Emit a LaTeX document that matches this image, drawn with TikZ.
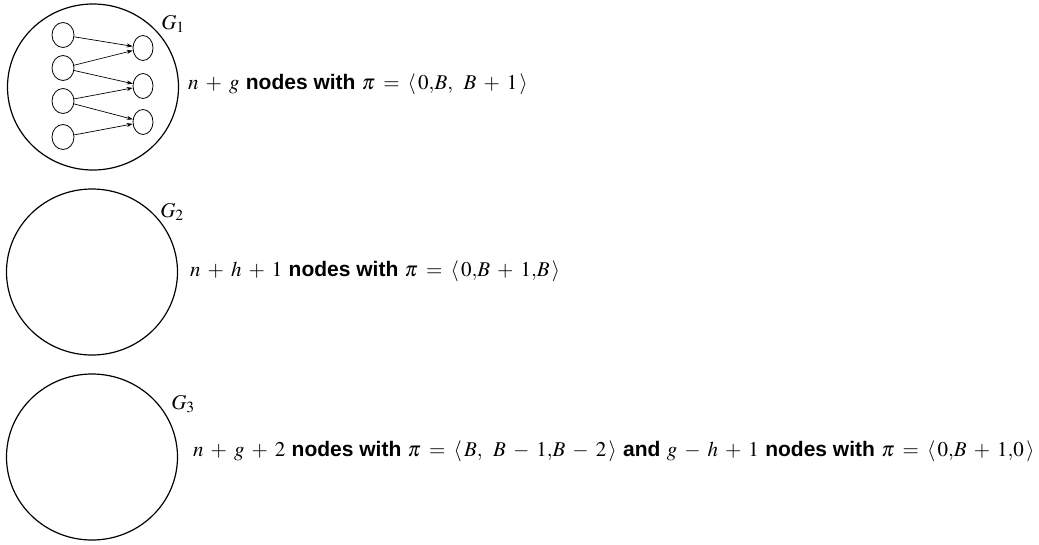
\documentclass[tikz,border=0pt]{standalone}
\usepackage{mathptmx}
\usepackage{fontspec}
\setsansfont{Liberation Sans}
\usetikzlibrary{shapes.geometric,arrows.meta}
\newcommand{\bsf}[1]{\textsf{\bfseries #1}}
\medmuskip=6mu\relax
\thickmuskip=7mu\relax
\begin{document}
\begin{tikzpicture}[x=1pt,y=-1pt,
  bigc/.style={draw,line width=1.2pt,ellipse,minimum width=171pt,minimum height=166pt,inner sep=0pt},
  smallc/.style={draw,line width=0.8pt,ellipse,minimum width=22pt,minimum height=25pt,inner sep=0pt},
  edge/.style={line width=0.7pt,-{Stealth[length=6pt,width=4pt]}},
  lbl/.style={inner sep=0pt,font=\fontsize{21}{24}\selectfont},
  txt/.style={anchor=west,inner sep=0pt,font=\fontsize{21}{24}\selectfont}]
\useasboundingbox (0,0) rectangle (1039,544);
% G1
\node[bigc] (g1) at (93,87) {};
\node[lbl] (g1l) at (173,24) {$G_1$};
\node[smallc] (l1) at (63,35) {};
\node[smallc] (l2) at (63,68) {};
\node[smallc] (l3) at (63,101) {};
\node[smallc] (l4) at (63,137) {};
\node[smallc,minimum width=20pt] (r1) at (143,48) {};
\node[smallc,minimum width=20pt] (r2) at (143,86) {};
\node[smallc,minimum width=20pt] (r3) at (143,122) {};
\draw[edge] (l1) -- (r1);
\draw[edge] (l2) -- (r1);
\draw[edge] (l2) -- (r2);
\draw[edge] (l3) -- (r2);
\draw[edge] (l3) -- (r3);
\draw[edge] (l4) -- (r3);
\node[txt] (t1) at (188,84) {$n+g$ \bsf{nodes with} $\pi=\langle\, 0{,}B,\; B+1\,\rangle$};
% G2
\node[bigc] (g2) at (92,272) {};
\node[lbl] (g2l) at (172,212) {$G_2$};
\node[txt] (t2) at (190,271) {$n+h+1$ \bsf{nodes with} $\pi=\langle\, 0{,}B+1{,}B\,\rangle$};
% G3
\node[bigc] (g3) at (92,457) {};
\node[lbl] (g3l) at (183,404) {$G_3$};
\node[txt] (t3) at (193,451) {$n+g+2$ \bsf{nodes with} $\pi=\langle\, B,\; B-1{,}B-2\,\rangle$ \bsf{and} $g-h+1$ \bsf{nodes with} $\pi=\langle\, 0{,}B+1{,}0\,\rangle$};
\end{tikzpicture}
\end{document}
